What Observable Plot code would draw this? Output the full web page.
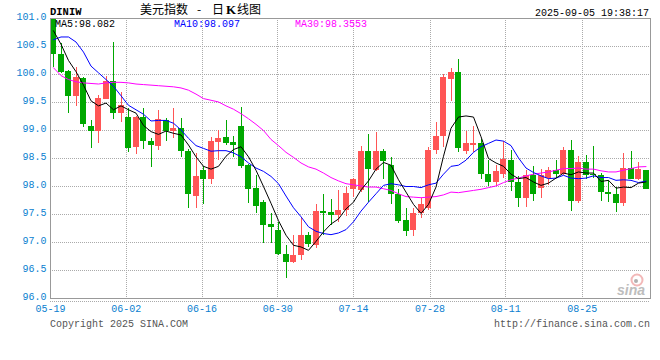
<!DOCTYPE html>
<html>
<head>
<meta charset="utf-8">
<script src="https://cdn.jsdelivr.net/npm/d3@7"></script>
<script src="https://cdn.jsdelivr.net/npm/@observablehq/plot@0.6"></script>
<style>
html, body { margin: 0; padding: 0; background: #fff; }
#chart { position: relative; width: 660px; height: 360px; overflow: hidden; background: #fff; }
#chart svg { display: block; }
</style>
</head>
<body>
<div id="chart"></div>
<script>
// ---- data (trading days 2025-05-19 .. 2025-09-05) ----
const opens = [100.98,100.36,100.05,99.60,99.92,99.08,98.98,99.56,99.87,99.31,
99.23,98.69,99.23,98.81,98.71,99.18,98.99,99.04,98.63,97.83,
98.28,98.12,98.79,98.87,98.79,99.08,98.38,97.97,97.71,97.33,
97.21,96.79,96.65,96.76,97.13,96.95,97.55,97.53,97.49,97.57,
97.95,97.92,98.63,98.29,98.63,98.38,97.86,97.39,97.21,97.51,
97.61,98.65,98.90,99.91,100.04,98.62,98.74,98.77,98.22,98.07,
98.22,98.47,98.08,97.79,98.20,97.96,98.14,98.29,98.22,98.64,
97.73,98.42,98.22,98.20,97.90,97.85,97.70,98.33,98.13,98.29];
const highs = [100.99,100.56,100.07,100.13,99.95,99.17,99.63,99.97,100.57,99.67,
99.39,99.25,99.39,98.85,99.36,99.22,99.40,99.21,98.66,98.59,
98.36,98.87,99.00,99.17,98.90,99.41,98.40,98.20,97.75,97.51,
97.35,96.95,97.13,97.43,97.17,97.68,97.85,97.76,97.93,97.98,
98.15,98.71,98.92,98.96,98.66,98.51,97.95,97.61,97.60,97.79,
98.69,99.15,100.00,100.11,100.27,98.99,99.08,98.84,98.47,98.37,
98.81,98.64,98.18,98.28,98.36,98.31,98.34,98.46,98.69,98.83,
98.54,98.56,98.72,98.23,98.10,97.98,98.59,98.63,98.43,98.29];
const lows = [100.12,100.02,99.31,99.43,99.05,98.67,98.77,99.55,99.19,99.14,
98.60,98.57,98.66,98.34,98.65,98.81,98.85,98.52,97.60,97.61,
97.68,98.04,98.46,98.74,98.52,98.33,97.70,97.51,96.99,96.99,
96.77,96.36,96.63,96.67,96.91,96.89,97.13,97.30,97.36,97.46,
97.80,97.90,97.71,98.27,98.13,97.68,97.34,97.11,97.10,97.42,
97.58,98.57,98.69,99.52,98.60,98.58,98.60,98.13,98.00,98.00,
98.15,97.91,97.63,97.63,97.73,97.79,98.01,98.14,98.20,97.55,
97.70,98.13,98.15,97.74,97.71,97.54,97.64,98.13,98.10,97.94];
const closes = [100.35,100.03,99.60,99.95,99.10,98.98,99.57,99.87,99.31,99.45,
98.67,99.23,98.81,98.74,99.19,98.99,99.04,98.62,97.85,98.17,
98.12,98.81,98.85,98.77,98.74,98.36,97.95,97.64,97.30,97.26,
96.78,96.65,96.77,97.13,96.97,97.56,97.51,97.49,97.58,97.87,
98.13,98.63,98.31,98.63,98.45,97.86,97.37,97.19,97.51,97.68,
98.65,98.90,99.95,100.04,98.67,98.76,98.76,98.21,98.08,98.27,
98.49,98.07,97.79,98.20,97.85,98.19,98.29,98.22,98.64,97.73,
98.42,98.20,98.19,97.89,97.85,97.70,98.32,98.13,98.30,97.94];
const ma5 = [100.78,100.54,100.25,100.05,99.81,99.53,99.44,99.49,99.37,99.44,
99.37,99.31,99.09,98.98,98.93,98.99,98.95,98.92,98.74,98.53,
98.36,98.31,98.36,98.54,98.66,98.71,98.53,98.29,98.00,97.70,
97.39,97.13,96.95,96.92,96.86,97.02,97.19,97.33,97.42,97.60,
97.72,97.94,98.10,98.31,98.43,98.38,98.12,97.90,97.68,97.52,
97.68,97.99,98.54,99.04,99.24,99.26,99.24,98.89,98.50,98.42,
98.36,98.22,98.14,98.16,98.08,98.02,98.06,98.15,98.24,98.21,
98.26,98.24,98.24,98.09,98.11,97.97,97.99,97.98,98.06,98.082];
const ma10 = [100.62,100.67,100.67,100.58,100.40,100.15,100.03,99.91,99.79,99.62,
99.45,99.37,99.29,99.17,99.18,99.18,99.13,99.01,98.86,98.73,
98.68,98.63,98.64,98.64,98.60,98.53,98.42,98.33,98.27,98.18,
98.05,97.83,97.62,97.46,97.28,97.20,97.16,97.14,97.17,97.23,
97.37,97.56,97.72,97.87,98.02,98.05,98.03,98.00,98.00,97.98,
98.03,98.06,98.22,98.36,98.38,98.47,98.61,98.71,98.77,98.83,
98.81,98.73,98.51,98.33,98.25,98.19,98.14,98.15,98.20,98.15,
98.14,98.15,98.19,98.16,98.16,98.11,98.12,98.11,98.07,98.097];
const ma30 = [100.12,99.98,99.91,99.87,99.85,99.84,99.83,99.85,99.86,99.86,
99.85,99.83,99.82,99.81,99.80,99.79,99.78,99.76,99.72,99.65,
99.57,99.54,99.51,99.44,99.38,99.30,99.21,99.11,99.00,98.84,
98.73,98.61,98.52,98.42,98.35,98.31,98.24,98.16,98.10,98.05,
98.03,98.01,97.99,97.99,97.96,97.93,97.87,97.82,97.81,97.80,
97.81,97.82,97.85,97.90,97.89,97.91,97.93,97.95,97.98,98.01,
98.07,98.12,98.15,98.19,98.22,98.24,98.26,98.29,98.32,98.32,
98.33,98.31,98.31,98.28,98.26,98.26,98.29,98.32,98.35,98.3553];
const yTicks = [96.0, 96.5, 97.0, 97.5, 98.0, 98.5, 99.0, 99.5, 100.0, 100.5, 101.0];
const xTickPos = [-0.4, 9.7, 19.8, 29.9, 40.0, 50.2, 60.3, 70.5];   // in trading-day index units
const xTickLabels = ["05-19", "06-02", "06-16", "06-30", "07-14", "07-28", "08-11", "08-25"];
const symbol = "DINIW";
const titleParts = ["美元指数 ", "- ", "日", "K", "线图"];
const timestamp = "2025-09-05 19:38:17";
const copyrightText = "Copyright 2025 SINA.COM";
const urlText = "http://finance.sina.com.cn";

// ---- styles ----
const UP = "#ff5555", DOWN = "#00a800";
const GRID = "#aaaaaa", AXIS = "#999999", LABEL = "#0a80d0";
const MONO = "'Liberation Mono', 'DejaVu Sans Mono', monospace";

const candles = closes.map((c, i) => ({i, open: opens[i], high: highs[i], low: lows[i], close: c}));
const up = candles.filter(d => d.close >= d.open);
const down = candles.filter(d => d.close < d.open);
const series = (arr) => arr.map((v, i) => ({i, v}));

const plot = Plot.plot({
  width: 660, height: 360,
  marginLeft: 50, marginRight: 10, marginTop: 18, marginBottom: 62,
  style: {fontFamily: MONO, fontSize: "10px", background: "#fff", overflow: "visible"},
  x: {type: "linear", domain: [-0.4, 79.6], axis: null},
  y: {type: "linear", domain: [96, 101], axis: null},
  marks: [
    Plot.ruleY(yTicks.slice(1, -1), {stroke: GRID, strokeDasharray: "1,1", shapeRendering: "crispEdges"}),
    Plot.ruleX(xTickPos.slice(1), {stroke: GRID, strokeDasharray: "1,1", shapeRendering: "crispEdges"}),
    Plot.ruleY([96], {stroke: GRID, strokeDasharray: "1,1", dy: 3, shapeRendering: "crispEdges"}),
    Plot.ruleX(down, {x: "i", y1: "low", y2: "high", stroke: DOWN, shapeRendering: "crispEdges"}),
    Plot.ruleX(up, {x: "i", y1: "low", y2: "high", stroke: UP, shapeRendering: "crispEdges"}),
    Plot.rect(down, {x1: d => d.i - 0.4, x2: d => d.i + 0.4, y1: "open", y2: "close", fill: DOWN, shapeRendering: "crispEdges"}),
    Plot.rect(up, {x1: d => d.i - 0.4, x2: d => d.i + 0.4, y1: "open", y2: "close", fill: UP, shapeRendering: "crispEdges"}),
    Plot.line(series(ma30), {x: "i", y: "v", stroke: "#ff00ff", strokeWidth: 1}),
    Plot.line(series(ma10), {x: "i", y: "v", stroke: "#0000ff", strokeWidth: 1}),
    Plot.line(series(ma5), {x: "i", y: "v", stroke: "#000000", strokeWidth: 1}),
    Plot.frame({stroke: AXIS, shapeRendering: "crispEdges"}),
    Plot.text(yTicks, {y: d => d, text: d => d.toFixed(1), frameAnchor: "left", textAnchor: "end", dx: -4, dy: -1.5, fill: LABEL, fontFamily: MONO, fontSize: 10}),
    Plot.text(xTickPos, {x: d => d, text: (d, i) => xTickLabels[i], frameAnchor: "bottom", lineAnchor: "middle", dy: 10, fill: LABEL, fontFamily: MONO, fontSize: 10})
  ]
});

document.getElementById("chart").appendChild(plot);

// ---- header / footer annotations ----
const svg = d3.select(plot);
function label(x, y, str, o = {}) {
  return svg.append("text")
    .attr("x", x).attr("y", y)
    .attr("font-family", o.family || MONO)
    .attr("font-size", o.size || 10)
    .attr("font-weight", o.weight || "normal")
    .attr("font-style", o.style || "normal")
    .attr("text-anchor", o.anchor || "start")
    .attr("fill", o.fill || "#000")
    .text(str);
}
label(50, 15, symbol, {weight: "bold", size: 10.5});
const t = svg.append("text").attr("y", 14).attr("font-size", 12)
  .attr("text-anchor", "start")
  .attr("font-family", "'Noto Sans CJK SC', sans-serif").attr("fill", "#000");
const tx = [140, 197, 212, 226, 237];
titleParts.forEach((p, k) => {
  const s = t.append("tspan").attr("x", tx[k]).text(p);
  if (p === "K") s.attr("font-family", "'Liberation Serif', serif").attr("font-weight", "bold").attr("font-size", 13);
});
label(649, 15.5, timestamp, {anchor: "end"});
label(55, 26.5, `MA5:${ma5[ma5.length - 1].toFixed(3)}`, {fill: "#000"});
label(174, 26.5, `MA10:${ma10[ma10.length - 1].toFixed(3)}`, {fill: "#0000ff"});
label(295, 26.5, `MA30:${ma30[ma30.length - 1].toFixed(4)}`, {fill: "#ff00ff"});
label(50, 327, copyrightText, {fill: "#555"});
label(650, 327, urlText, {fill: "#555", anchor: "end"});
// sina watermark
svg.append("circle").attr("cx", 637).attr("cy", 280).attr("r", 5.5)
  .attr("fill", "none").attr("stroke", "#f2b8b8").attr("stroke-width", 2);
svg.append("circle").attr("cx", 636).attr("cy", 281).attr("r", 2).attr("fill", "#b0b0b0");
label(617, 295, "sina", {family: "'Liberation Sans', sans-serif", weight: "bold", style: "italic", size: 14, fill: "#bdbdbd"});
</script>
</body>
</html>
